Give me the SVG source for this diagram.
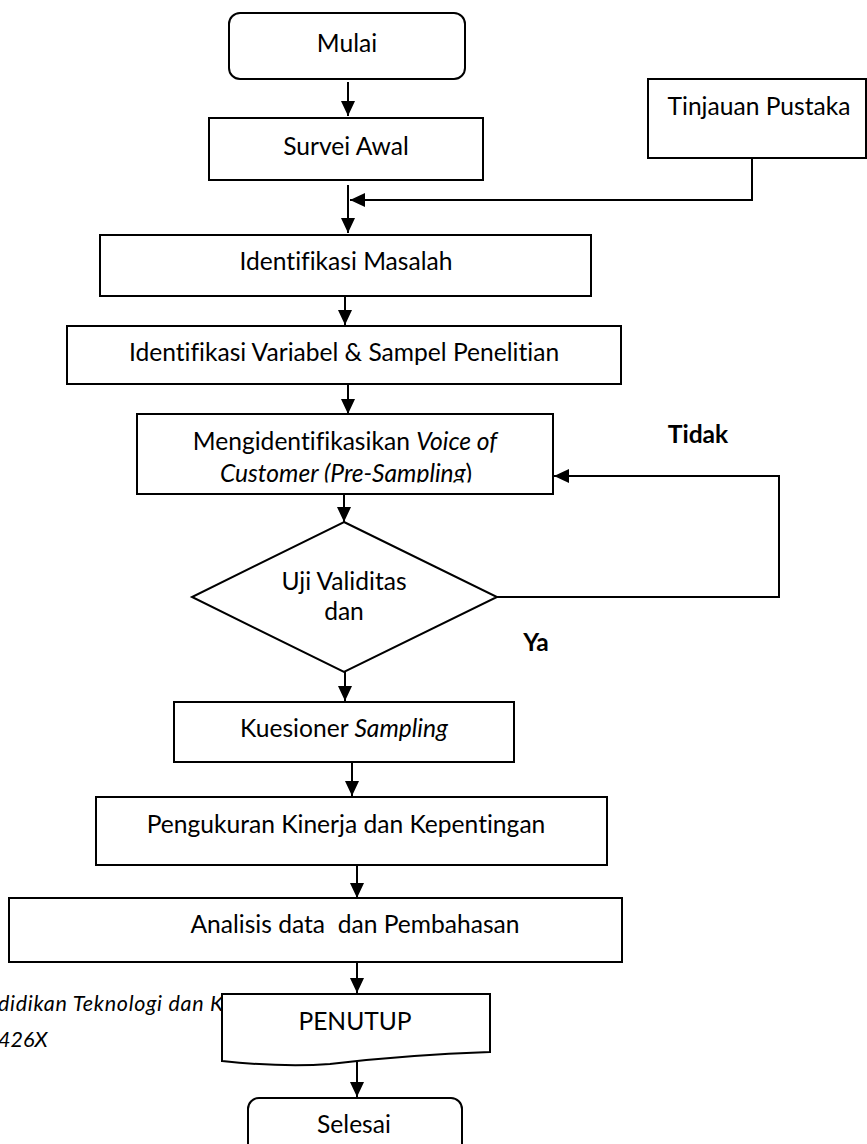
<svg xmlns="http://www.w3.org/2000/svg" width="867" height="1144" viewBox="0 0 867 1144">
<defs>
<style>
.b{fill:#fff;stroke:#000;stroke-width:2}
.t{font-family:Lato,"Liberation Sans",sans-serif;font-size:24.6px;fill:#000;text-anchor:middle;font-variant-ligatures:none}
.bold{font-weight:bold}
.c{fill:none;stroke:#000;stroke-width:2}
.side{font-family:Lato,"Liberation Sans",sans-serif;font-size:21.5px;font-style:italic;fill:#000;font-variant-ligatures:none}
</style>
<marker id="ah" markerWidth="16" markerHeight="14" refX="15" refY="7" orient="auto" markerUnits="userSpaceOnUse">
<path d="M0,0 L15,7 L0,14 Z" fill="#000"/>
</marker>
<clipPath id="clipM"><rect x="137" y="414" width="416" height="68.5"/></clipPath>
</defs>
<rect width="867" height="1144" fill="#fff"/>
<text class="side" x="-2" y="1011" letter-spacing="0.7">didikan Teknologi dan K</text>
<text class="side" x="-2" y="1047">426X</text>
<g id="connectors">
<path class="c" d="M348,82 V116" marker-end="url(#ah)"/>
<path class="c" d="M348,185 V233" marker-end="url(#ah)"/>
<path class="c" d="M752,158 V200 H350" marker-end="url(#ah)"/>
<path class="c" d="M345,296 V325" marker-end="url(#ah)"/>
<path class="c" d="M348,384 V414" marker-end="url(#ah)"/>
<path class="c" d="M344,494 V522" marker-end="url(#ah)"/>
<path class="c" d="M497,597 H779 V476 H554" marker-end="url(#ah)"/>
<path class="c" d="M345,672 V701" marker-end="url(#ah)"/>
<path class="c" d="M352,762 V796" marker-end="url(#ah)"/>
<path class="c" d="M357,865 V898" marker-end="url(#ah)"/>
<path class="c" d="M357,962 V993" marker-end="url(#ah)"/>
<path class="c" d="M357,1062 V1097" marker-end="url(#ah)"/>
</g>
<g id="n-mulai"><rect class="b" x="229" y="13" width="236" height="66" rx="11"/><text class="t" x="347" y="52">Mulai</text></g>
<g id="n-survei"><rect class="b" x="209" y="118" width="274" height="62"/><text class="t" x="346" y="155">Survei Awal</text></g>
<g id="n-tinjauan"><rect class="b" x="648" y="79" width="218" height="79"/><text class="t" x="759" y="115">Tinjauan Pustaka</text></g>
<g id="n-masalah"><rect class="b" x="100" y="235" width="491" height="61"/><text class="t" x="346" y="270">Identifikasi Masalah</text></g>
<g id="n-variabel"><rect class="b" x="67" y="326" width="554" height="58"/><text class="t" x="344" y="361">Identifikasi Variabel &amp; Sampel Penelitian</text></g>
<g id="n-voc"><rect class="b" x="137" y="414" width="416" height="80"/>
<g clip-path="url(#clipM)"><text class="t" x="345" y="450">Mengidentifikasikan <tspan font-style="italic">Voice of</tspan></text><text class="t" x="346" y="482"><tspan font-style="italic">Customer (Pre-Sampling</tspan>)</text></g></g>
<g id="n-uji"><path class="b" d="M344,522 L497,597 L344,672 L192,597 Z"/><text class="t" x="344" y="590">Uji Validitas</text><text class="t" x="344" y="620">dan</text></g>
<text class="t bold" x="698" y="443">Tidak</text>
<text class="t bold" x="536" y="651">Ya</text>
<g id="n-kuesioner"><rect class="b" x="174" y="702" width="340" height="60"/><text class="t" x="344" y="737">Kuesioner <tspan font-style="italic">Sampling</tspan></text></g>
<g id="n-pengukuran"><rect class="b" x="96" y="797" width="511" height="68"/><text class="t" x="346" y="833">Pengukuran Kinerja dan Kepentingan</text></g>
<g id="n-analisis"><rect class="b" x="9" y="898" width="613" height="64"/><text class="t" x="355" y="933" xml:space="preserve">Analisis data  dan Pembahasan</text></g>
<g id="n-penutup"><path class="b" d="M222,994 H490 V1052 C430,1054 380,1058 330,1064 C290,1067 250,1064 222,1061 Z"/><text class="t" x="355" y="1030">PENUTUP</text></g>
<g id="n-selesai"><rect class="b" x="248" y="1098" width="214" height="70" rx="11"/><text class="t" x="354" y="1133">Selesai</text></g>
</svg>
